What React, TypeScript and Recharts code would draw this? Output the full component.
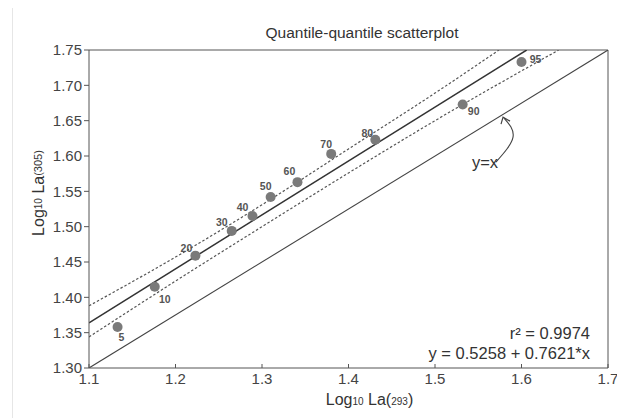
import React from 'react';
import {
  ComposedChart, Scatter, Line, XAxis, YAxis, ReferenceLine,
} from 'recharts';

// quantile points (Log10 La at 293 vs 305)
const quantiles = [5, 10, 20, 30, 40, 50, 60, 70, 80, 90, 95];
const logLa293 = [1.133, 1.176, 1.223, 1.265, 1.289, 1.310, 1.341, 1.380, 1.431, 1.532, 1.600];
const logLa305 = [1.358, 1.415, 1.459, 1.494, 1.515, 1.542, 1.563, 1.603, 1.623, 1.673, 1.733];

// fitted line y = 0.5258 + 0.7621*x, clipped at top of plot
const fitX = [1.1, 1.606];
const fitY = [1.364, 1.75];

// dashed bands
const upperX = [1.1, 1.2, 1.3, 1.4, 1.5, 1.574];
const upperY = [1.388, 1.457, 1.531, 1.610, 1.689, 1.75];
const lowerX = [1.1, 1.2, 1.3, 1.4, 1.5, 1.643];
const lowerY = [1.344, 1.423, 1.500, 1.576, 1.650, 1.75];

// y=x reference (drawn corner to corner in the original)
const diagX = [1.1, 1.7];
const diagY = [1.3, 1.75];

// curved pointer from the "y=x" note to the line
const arrowX = [1.5705, 1.5902, 1.5798];
const arrowY = [1.5914, 1.6267, 1.6536];

const xTicks = [1.1, 1.2, 1.3, 1.4, 1.5, 1.6, 1.7];
const yTicks = [1.3, 1.35, 1.4, 1.45, 1.5, 1.55, 1.6, 1.65, 1.7, 1.75];

// where each quantile number sits relative to its dot
const labelOffsets = [
  [4, 10], [10, 12], [-9, -8], [-10, -9], [-10, -9], [-5, -11],
  [-8, -11], [-5, -10], [-8, -7], [11, 7], [14, -3],
];

const zip = (xs: number[], ys: number[]) => xs.map((x, i) => ({ x, y: ys[i] }));

const points = quantiles.map((q, i) => ({ q, i, x: logLa293[i], y: logLa305[i] }));

const FONT = '"Liberation Sans", Arial, sans-serif';

const QuantileDot = (props: any) => {
  const { cx, cy, payload } = props;
  if (cx == null || cy == null) return null;
  const [dx, dy] = labelOffsets[payload.i];
  return (
    <g>
      <circle cx={cx} cy={cy} r={5} fill="#7a7a7a" />
      <text
        x={cx + dx}
        y={cy + dy}
        textAnchor="middle"
        dominantBaseline="central"
        fontSize={10.5}
        fontWeight="bold"
        fill="#555"
        fontFamily={FONT}
      >
        {payload.q}
      </text>
    </g>
  );
};

const ArrowHead = (props: any) => {
  const { cx, cy, index } = props;
  if (index !== arrowX.length - 1 || cx == null) return <g key={`ah-${index}`} />;
  return (
    <path
      key={`ah-${index}`}
      d={`M${cx - 3},${cy + 6} L${cx - 1},${cy - 1} L${cx + 6},${cy + 3}`}
      fill="none"
      stroke="#444"
      strokeWidth={1.2}
    />
  );
};

const XLabel = (props: any) => {
  const { viewBox } = props;
  const cx = viewBox.x + viewBox.width / 2 + 21;
  return (
    <text x={cx} y={viewBox.y + 37} textAnchor="middle" fontSize={16} fill="#333" fontFamily={FONT}>
      Log<tspan fontSize={10}>10</tspan> La(<tspan fontSize={10}>293</tspan>)
    </text>
  );
};

const YLabel = (props: any) => {
  const { viewBox } = props;
  const x = viewBox.x + 9;
  const y = viewBox.y + viewBox.height / 2 - 16;
  return (
    <text
      x={x}
      y={y}
      transform={`rotate(-90 ${x} ${y})`}
      textAnchor="middle"
      dominantBaseline="central"
      fontSize={16}
      fill="#333"
      fontFamily={FONT}
    >
      Log<tspan fontSize={10}>10</tspan> La<tspan fontSize={11}>(305)</tspan>
    </text>
  );
};

export default function App() {
  return (
    <div style={{ position: 'relative', width: 625, height: 418, margin: '-8px 0 0 -8px', background: '#fff', fontFamily: FONT }}>
      <div style={{ position: 'absolute', left: 12, top: 7, width: 620, height: 420, border: '1px solid #e6e6e6' }} />
      <ComposedChart
        width={625}
        height={418}
        margin={{ top: 50, right: 17, left: 29, bottom: 0 }}
        style={{ position: 'absolute', left: 0, top: 0 }}
      >
        <XAxis
          type="number"
          dataKey="x"
          domain={[1.1, 1.7]}
          ticks={xTicks}
          tickFormatter={(v: number) => v.toFixed(1)}
          allowDataOverflow
          height={50}
          stroke="#555"
          tickSize={-4}
          tickMargin={9}
          tick={{ fill: '#444', fontSize: 15, fontFamily: FONT }}
          label={<XLabel />}
        />
        <YAxis
          type="number"
          dataKey="y"
          domain={[1.3, 1.75]}
          ticks={yTicks}
          tickFormatter={(v: number) => v.toFixed(2)}
          allowDataOverflow
          width={60}
          stroke="#555"
          tickSize={5}
          tickMargin={2}
          tick={{ fill: '#444', fontSize: 15, fontFamily: FONT }}
          label={<YLabel />}
        />
        <ReferenceLine y={1.75} stroke="#555" />
        <ReferenceLine x={1.7} stroke="#555" />

        <Line data={zip(diagX, diagY)} dataKey="y" type="linear" stroke="#444" strokeWidth={1.1} dot={false} isAnimationActive={false} />
        <Line data={zip(upperX, upperY)} dataKey="y" type="monotone" stroke="#555" strokeWidth={1.2} strokeDasharray="2.5 2" dot={false} isAnimationActive={false} />
        <Line data={zip(lowerX, lowerY)} dataKey="y" type="monotone" stroke="#555" strokeWidth={1.2} strokeDasharray="2.5 2" dot={false} isAnimationActive={false} />
        <Line data={zip(fitX, fitY)} dataKey="y" type="linear" stroke="#333" strokeWidth={1.5} dot={false} isAnimationActive={false} />
        <Line data={zip(arrowX, arrowY)} dataKey="y" type="natural" stroke="#444" strokeWidth={1.1} dot={<ArrowHead />} activeDot={false} isAnimationActive={false} />

        <Scatter data={points} dataKey="y" shape={<QuantileDot />} isAnimationActive={false} />
      </ComposedChart>

      <svg width={625} height={418} style={{ position: 'absolute', left: 0, top: 0, pointerEvents: 'none' }}>
        <text x={362} y={38} textAnchor="middle" fontSize={15.5} fill="#333" fontFamily={FONT}>
          Quantile-quantile scatterplot
        </text>
        <text x={485} y={168} textAnchor="middle" fontSize={16.5} fill="#333" fontFamily={FONT}>y=x</text>
        <text x={590} y={339} textAnchor="end" fontSize={16.5} fill="#333" fontFamily={FONT}>r² = 0.9974</text>
        <text x={590} y={359} textAnchor="end" fontSize={16.5} fill="#333" fontFamily={FONT}>y = 0.5258 + 0.7621*x</text>
      </svg>
    </div>
  );
}
